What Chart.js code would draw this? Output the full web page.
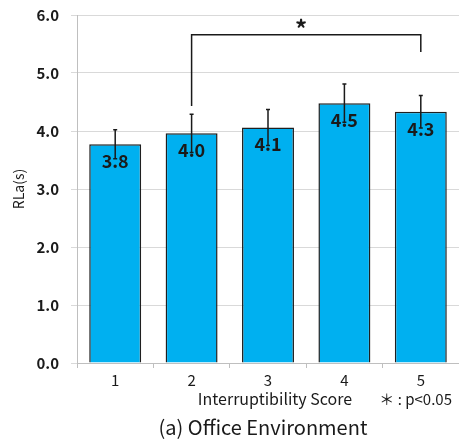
<!DOCTYPE html>
<html>
<head>
<meta charset="utf-8">
<script src="https://cdn.jsdelivr.net/npm/chart.js@4.4.0/dist/chart.umd.min.js"></script>
<style>
html,body{margin:0;padding:0;background:#fff}
</style>
</head>
<body>
<canvas id="c" width="459" height="441"></canvas>
<script>
// data
const scores = ['1', '2', '3', '4', '5'];
const rla = [3.77, 3.96, 4.06, 4.48, 4.33];
const rlaErr = [0.25, 0.33, 0.31, 0.33, 0.28];
const sigPair = [1, 4];          // bar indexes joined by the bracket
const sigTop = 5.66;             // bracket height (s)
const sigLegs = [4.43, 5.36];    // where each leg ends (s)
const sigMark = '*';
const yTicks = [0, 1, 2, 3, 4, 5, 6];

const xTitle = 'Interruptibility Score';
const yTitle = 'RLa(s)';
const note = '＊ : p<0.05';
const caption = '(a) Office Environment';

const FONT = "'Noto Sans CJK JP', 'Noto Sans', sans-serif";
const INK = '#1a1a1a';

// ── error bars, value labels, bracket, texts ─────────────────
const extras = {
  id: 'extras',
  afterDatasetsDraw(chart) {
    const ctx = chart.ctx;
    const y = chart.scales.y;
    const bars = chart.getDatasetMeta(0).data;
    ctx.save();

    // value labels
    ctx.fillStyle = INK;
    ctx.font = 'bold 18px ' + FONT;
    ctx.textAlign = 'center';
    ctx.textBaseline = 'middle';
    bars.forEach((b, i) => ctx.fillText(rla[i].toFixed(1), b.x, b.y + 17));

    // error bars
    ctx.strokeStyle = INK;
    ctx.lineWidth = 1.5;
    bars.forEach((b, i) => {
      const top = y.getPixelForValue(rla[i] + rlaErr[i]);
      const bot = y.getPixelForValue(rla[i] - rlaErr[i]);
      ctx.beginPath();
      ctx.moveTo(b.x, bot); ctx.lineTo(b.x, top);
      ctx.moveTo(b.x - 2, top); ctx.lineTo(b.x + 2, top);
      ctx.moveTo(b.x - 2, bot); ctx.lineTo(b.x + 2, bot);
      ctx.stroke();
    });

    // significance bracket
    const xa = bars[sigPair[0]].x, xb = bars[sigPair[1]].x;
    const yt = y.getPixelForValue(sigTop);
    ctx.beginPath();
    ctx.moveTo(xa, y.getPixelForValue(sigLegs[0]));
    ctx.lineTo(xa, yt);
    ctx.lineTo(xb, yt);
    ctx.lineTo(xb, y.getPixelForValue(sigLegs[1]));
    ctx.stroke();
    ctx.font = 'bold 24px ' + FONT;
    ctx.fillText(sigMark, (xa + xb) / 2 - 5, yt - 6);
    ctx.restore();
  },
  afterDraw(chart) {
    const ctx = chart.ctx;
    ctx.save();
    ctx.fillStyle = INK;
    ctx.textBaseline = 'middle';
    ctx.font = '16px ' + FONT;
    ctx.textAlign = 'center';
    ctx.fillText(xTitle, 275, 399);
    ctx.font = '15px ' + FONT;
    ctx.textAlign = 'right';
    ctx.fillText(note, 452, 399);
    ctx.textAlign = 'center';
    ctx.font = '20px ' + FONT;
    ctx.fillText(caption, 263, 427);
    ctx.restore();
  }
};

new Chart(document.getElementById('c'), {
  type: 'bar',
  data: {
    labels: scores,
    datasets: [{
      data: rla,
      backgroundColor: '#00b0f0',
      borderColor: '#1f1f1f',
      borderWidth: 1.5,
      categoryPercentage: 1,
      barPercentage: 0.68
    }]
  },
  options: {
    responsive: false,
    animation: false,
    devicePixelRatio: 1,
    layout: { padding: { top: 15, right: 0, bottom: 0, left: 0 } },
    plugins: { legend: { display: false }, tooltip: { enabled: false } },
    scales: {
      x: {
        offset: true,
        grid: { drawOnChartArea: false, tickLength: 5, color: '#bfbfbf', offset: true },
        border: { color: '#bfbfbf' },
        ticks: { color: INK, padding: 3, font: { family: FONT, size: 15 } },
        afterFit(s) { s.height = 78; s.paddingLeft = 0; s.paddingRight = 0; }
      },
      y: {
        min: 0, max: 6,
        afterBuildTicks(s) { s.ticks = yTicks.map(v => ({ value: v })); },
        grid: { color: '#d9d9d9', tickLength: 6 },
        border: { color: '#bfbfbf' },
        ticks: {
          color: INK, padding: 12,
          font: { family: FONT, size: 15, weight: 'bold' },
          callback: v => v.toFixed(1)
        },
        title: {
          display: true, text: yTitle, color: INK,
          font: { family: FONT, size: 14 },
          padding: { top: 10, bottom: 0 }
        },
        afterFit(s) { s.width = 77; s.paddingTop = 0; s.paddingBottom = 0; }
      }
    }
  },
  plugins: [extras]
});
</script>
</body>
</html>
